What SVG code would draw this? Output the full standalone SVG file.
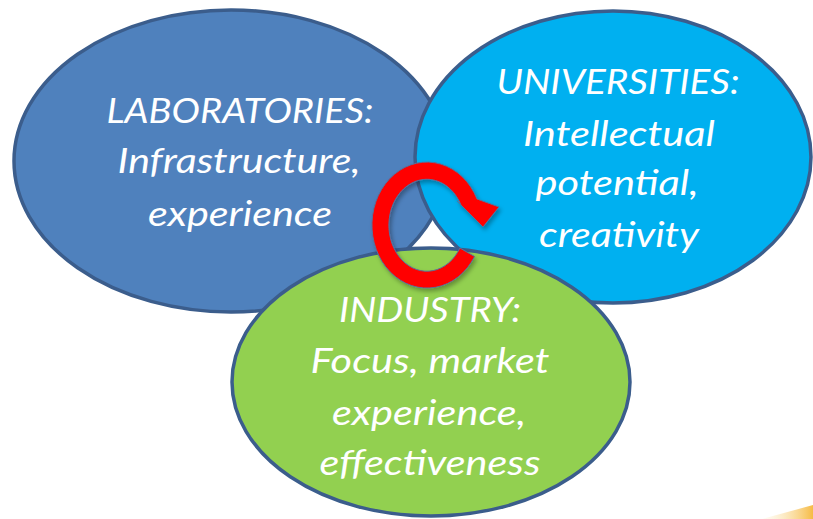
<svg xmlns="http://www.w3.org/2000/svg" width="813" height="519" viewBox="0 0 813 519">
<style>
.node{stroke:#3b5d8c;stroke-width:3.5}
.lbl{font-family:Lato,"Open Sans","Liberation Sans",sans-serif;font-style:italic;font-size:35px;fill:#ffffff;text-anchor:middle}
</style>
<defs>
<linearGradient id="corner" x1="0" y1="0" x2="1" y2="0">
<stop offset="0" stop-color="#fdf0d0" stop-opacity="0.2"/>
<stop offset="1" stop-color="#f6bb45"/>
</linearGradient>
<filter id="sh" x="-20%" y="-20%" width="140%" height="140%">
<feDropShadow dx="2" dy="3" stdDeviation="2" flood-color="#000" flood-opacity="0.3"/>
</filter>
</defs>
<rect width="813" height="519" fill="#ffffff"/>
<path d="M762 519 L813 505 L813 519 Z" fill="url(#corner)"/>
<g id="laboratories">
<ellipse class="node" cx="231" cy="161" rx="217" ry="151" fill="#4f81bd"/>
<text class="lbl" x="240" y="123" textLength="267" lengthAdjust="spacingAndGlyphs">LABORATORIES:</text>
<text class="lbl" x="239" y="173" textLength="243" lengthAdjust="spacingAndGlyphs">Infrastructure,</text>
<text class="lbl" x="240" y="226" textLength="184" lengthAdjust="spacingAndGlyphs">experience</text>
</g>
<g id="universities">
<ellipse class="node" cx="613" cy="157" rx="198" ry="146" fill="#00b0f0"/>
<text class="lbl" x="618" y="94" textLength="243" lengthAdjust="spacingAndGlyphs">UNIVERSITIES:</text>
<text class="lbl" x="619" y="146" textLength="192" lengthAdjust="spacingAndGlyphs">Intellectual</text>
<text class="lbl" x="617" y="195" textLength="163" lengthAdjust="spacingAndGlyphs">potential,</text>
<text class="lbl" x="619" y="247" textLength="160" lengthAdjust="spacingAndGlyphs">creativity</text>
</g>
<g id="industry">
<ellipse class="node" cx="431" cy="382" rx="199" ry="134" fill="#92d050"/>
<text class="lbl" x="430" y="322" textLength="182" lengthAdjust="spacingAndGlyphs">INDUSTRY:</text>
<text class="lbl" x="430" y="373" textLength="239" lengthAdjust="spacingAndGlyphs">Focus, market</text>
<text class="lbl" x="429" y="425" textLength="194" lengthAdjust="spacingAndGlyphs">experience,</text>
<text class="lbl" x="430" y="475" textLength="221" lengthAdjust="spacingAndGlyphs">effectiveness</text>
</g>
<g id="connectors">
<path filter="url(#sh)" d="M474.6 256.5 A55 63 0 1 1 477 199 L499 207 L483 227 L457 201 L461 205 A38 46 0 1 0 459.9 248 Z" fill="#ff0000" stroke="#5a6f9a" stroke-width="1"/>
</g>
</svg>
